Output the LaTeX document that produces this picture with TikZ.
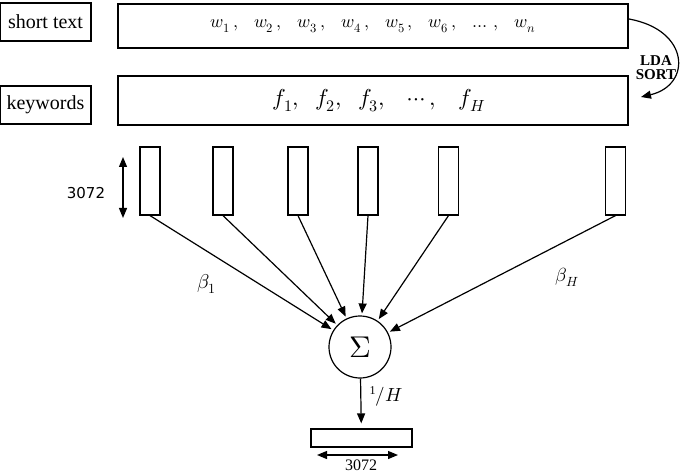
\documentclass[tikz,border=0pt]{standalone}
\usepackage{fontspec}
\usepackage{unicode-math}
\setmainfont{Liberation Serif}
\setmathfont{Latin Modern Math}
\newfontfamily\sansf{DejaVu Sans}
\usetikzlibrary{arrows.meta}
\begin{document}
\begin{tikzpicture}[x=1pt,y=-1pt, line width=1.2pt,
  every node/.style={inner sep=0pt},
  lbl/.style={draw, minimum width=91pt, minimum height=38pt, font=\rmfamily\fontsize{20}{22}\selectfont},
  wide/.style={draw, minimum width=510pt},
  bar/.style={draw, minimum width=20pt, minimum height=68pt},
  arr/.style={-{Triangle[length=10pt,width=8pt]}},
  darr/.style={{Triangle[length=10pt,width=8pt]}-{Triangle[length=10pt,width=8pt]}}]
\useasboundingbox (0,0) rectangle (685,473);
\node[lbl] (st) at (45.5,22) {short text};
\node[lbl] (kw) at (45.5,105) {keywords};
\node[wide, minimum height=44pt] (wb) at (373,26) {\fontsize{18}{20}\selectfont $w_1\,,\;\;\, w_2\,,\;\;\, w_3\,,\;\;\, w_4\,,\;\;\, w_5\,,\;\;\, w_6\,,\;\;\, \ldots\,,\;\;\, w_n$};
\node[wide, minimum height=49pt] (fb) at (373,100.5) {\hspace*{12pt}\fontsize{23}{25}\selectfont $f_1,\;\; f_2,\;\; f_3,\;\;\; \cdots,\;\;\; f_H$};
\node[bar] (b1) at (150,181) {};
\node[bar] (b2) at (223,181) {};
\node[bar] (b3) at (298,181) {};
\node[bar] (b4) at (368,181) {};
\node[bar] (b5) at (448.5,181) {};
\node[bar] (b6) at (615.5,181) {};
\coordinate (da1) at (123,157);
\coordinate (da2) at (123,218);
\draw[darr] (da1) -- (da2);
\node (dl) at (86,193) {\sansf\fontsize{15}{16}\selectfont 3072};
\node[circle, draw, minimum size=62pt] (sig) at (360,347) {\fontsize{30}{32}\selectfont$\Sigma$};
\node[draw, minimum width=101pt, minimum height=18pt] (out) at (361.5,438) {};
\draw[arr, shorten >=5pt] (sig) -- (out);
\foreach \b in {b1,b2,b3,b4,b5,b6}{\draw[arr, shorten >=2pt] (\b.south) -- (sig);}
\node (h) at (386,396) {\fontsize{19}{20}\selectfont\raisebox{7pt}{\fontsize{12}{12}\selectfont 1}$/H$};
\node (beta1) at (207,284) {\fontsize{20}{20}\selectfont$\beta_1$};
\node (betaH) at (567,277) {\fontsize{19}{20}\selectfont$\beta_H$};
\coordinate (ba1) at (317,455);
\coordinate (ba2) at (398,455);
\draw[darr] (ba1) -- (ba2);
\node (bl) at (361,465) {\fontsize{16}{17}\selectfont 3072};
\coordinate (cs) at (629,19);
\coordinate (ce) at (641,97);
\draw[arr] (cs) .. controls (690,30) and (692,85) .. (ce);
\node[align=center, font=\rmfamily\bfseries\fontsize{15}{14}\selectfont] (lda) at (656,68) {LDA\\SORT};
\end{tikzpicture}
\end{document}
